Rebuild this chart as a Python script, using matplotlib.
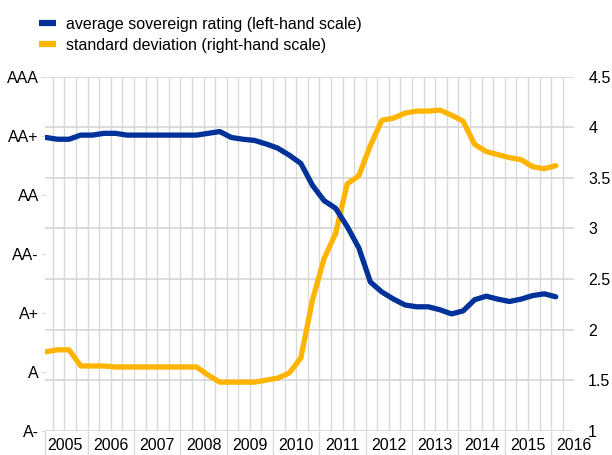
import matplotlib
matplotlib.use("Agg")
import matplotlib.pyplot as plt
from matplotlib.lines import Line2D
import numpy as np

plt.rcParams['font.family'] = ['Liberation Sans', 'DejaVu Sans']

# Quarterly data, 2005Q1 .. 2016Q1
quarters = [f"{y}Q{q}" for y in range(2005, 2017) for q in range(1, 5)][:45]

avg_rating = [4.97, 4.94, 4.94, 5.01, 5.01, 5.04, 5.04, 5.01, 5.01, 5.01,
              5.01, 5.01, 5.01, 5.01, 5.04, 5.07, 4.97, 4.94, 4.92, 4.86,
              4.79, 4.67, 4.53, 4.16, 3.90, 3.77, 3.46, 3.10, 2.52, 2.35,
              2.23, 2.13, 2.10, 2.10, 2.05, 1.98, 2.03, 2.22, 2.28, 2.23,
              2.19, 2.23, 2.29, 2.32, 2.27]

std_dev = [1.78, 1.80, 1.80, 1.64, 1.64, 1.64, 1.63, 1.63, 1.63, 1.63,
           1.63, 1.63, 1.63, 1.63, 1.55, 1.48, 1.48, 1.48, 1.48, 1.50,
           1.52, 1.57, 1.72, 2.29, 2.70, 2.95, 3.44, 3.52, 3.82, 4.07,
           4.09, 4.14, 4.16, 4.16, 4.17, 4.12, 4.06, 3.83, 3.76, 3.73,
           3.70, 3.68, 3.61, 3.59, 3.62]

rating_labels = ["A-", "A", "A+", "AA-", "AA", "AA+", "AAA"]
right_ticks = [1, 1.5, 2, 2.5, 3, 3.5, 4, 4.5]
years = list(range(2005, 2017))

legend_labels = ["average sovereign rating (left-hand scale)",
                 "standard deviation (right-hand scale)"]

BLUE = "#003299"
ORANGE = "#FFB400"
GRID = "#d9d9d9"
FS = 11.5
X0, X1 = 2005.08, 2016.25

def qpos(label):
    y, q = label.split("Q")
    return int(y) + 0.1 + (int(q) - 1) / 4.0

x = np.array([qpos(q) for q in quarters])

fig = plt.figure(figsize=(6.12, 4.55), dpi=100)
L, R, B, T = 45.0, 574.3, 430.7, 76.7
ax = fig.add_axes([L / 612, (455 - B) / 455, (R - L) / 612, (B - T) / 455])
ax2 = ax.twinx()

ax.set_xlim(X0, X1)
ax.set_ylim(0, 6)
ax2.set_ylim(1, 4.5)

# grid
for v in np.arange(2005.25, X1 + 0.01, 0.25):
    ax2.axvline(v, color=GRID, lw=1, zorder=0)
for v in np.linspace(1, 4.5, 8):
    ax2.axhline(v, color=GRID, lw=1.3, zorder=0)

ax.set_yticks(range(7))
ax.set_yticklabels(rating_labels, fontsize=FS)
ax.tick_params(axis='y', length=3, color=GRID, pad=1.5)

ax.set_xticks([X0] + years[1:])
ax.set_xticklabels([])
ax.set_xticks([y + 0.5 for y in years], minor=True)
ax.set_xticklabels([str(y) for y in years], minor=True, fontsize=FS)
ax.tick_params(axis='x', which='major', length=18, color=GRID, width=1)
ax.tick_params(axis='x', which='minor', length=0, pad=5)

ax2.set_yticks(right_ticks)
ax2.set_yticklabels([f"{t:g}" for t in right_ticks], fontsize=FS)
ax2.tick_params(axis='y', length=0, pad=10)

for a in (ax, ax2):
    for s in a.spines.values():
        s.set_visible(False)

ax2.plot(x, std_dev, color=ORANGE, lw=3.8, solid_joinstyle='round', solid_capstyle='round', zorder=3)
ax.plot(x, avg_rating, color=BLUE, lw=3.8, solid_joinstyle='round', solid_capstyle='round', zorder=3)
ax.set_zorder(ax2.get_zorder() + 1)
ax.patch.set_visible(False)

handles = [Line2D([0], [0], color=BLUE, lw=4.5, solid_capstyle='butt'),
           Line2D([0], [0], color=ORANGE, lw=4.5, solid_capstyle='butt')]
fig.legend(handles, legend_labels, loc='upper left', bbox_to_anchor=(34 / 612, 1 - 12 / 455),
           frameon=False, fontsize=FS, handlelength=1.1, handletextpad=0.6,
           labelspacing=0.38, borderaxespad=0, borderpad=0.3)

fig.savefig("out.png", dpi=100)
